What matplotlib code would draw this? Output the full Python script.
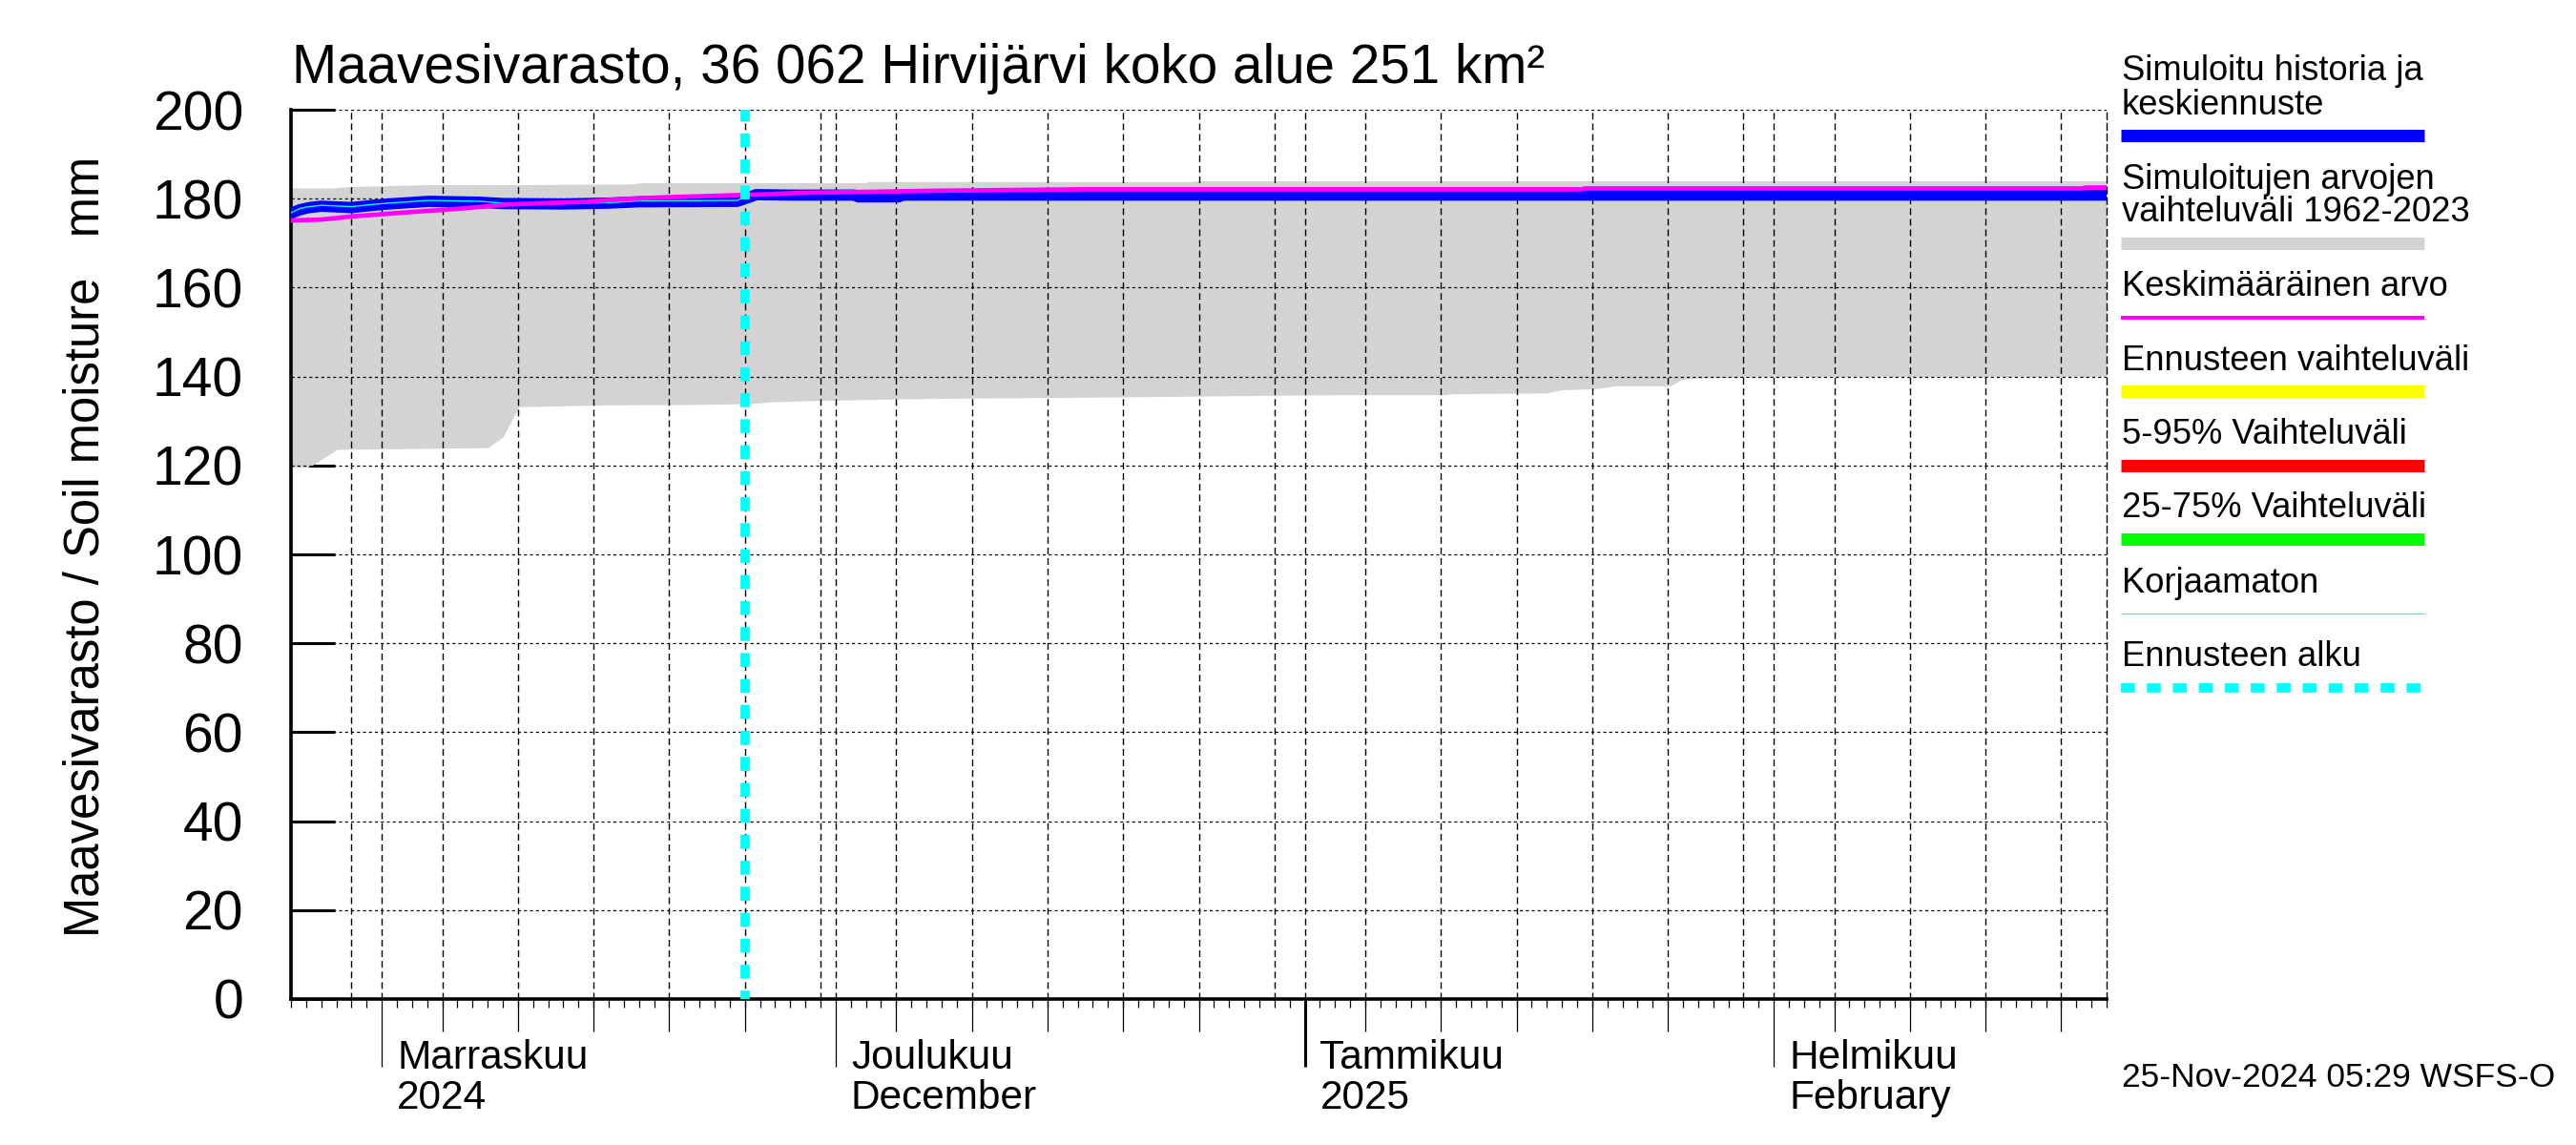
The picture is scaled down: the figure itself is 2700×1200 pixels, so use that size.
import matplotlib
matplotlib.use("Agg")
import matplotlib.pyplot as plt
import matplotlib.dates as mdates
from matplotlib.lines import Line2D
import numpy as np
import pandas as pd

plt.rcParams['font.family'] = ['Liberation Sans', 'DejaVu Sans']

# simulated range 1962-2023 (upper and lower edge)
band_hi_dates = ['2024-10-26 00:00', '2024-10-28 20:00', '2024-10-29 12:00', '2024-10-30 16:00',
                 '2024-11-01 10:00', '2024-11-04 03:00', '2024-11-10 14:00', '2024-11-17 14:00',
                 '2024-11-18 08:00', '2024-12-03 00:00', '2024-12-03 06:00', '2024-12-24 14:00',
                 '2024-12-24 20:00', '2025-02-23 00:00']
band_hi = [182.3, 182.3, 182.5, 182.7, 182.8, 183.05, 183.05, 183.2,
           183.5, 183.5, 183.75, 183.75, 183.9, 183.9]

band_lo_dates = ['2024-10-26 00:00', '2024-10-27 02:00', '2024-10-27 10:00', '2024-10-29 02:00',
                 '2024-11-08 01:00', '2024-11-09 01:00', '2024-11-10 02:00', '2024-11-15 16:00',
                 '2024-11-21 16:00', '2024-11-25 10:00', '2024-11-26 20:00', '2024-11-29 22:00',
                 '2024-12-05 20:00', '2024-12-08 20:00', '2024-12-20 00:00', '2024-12-28 00:00',
                 '2025-01-03 00:00', '2025-01-10 12:00', '2025-01-10 14:00', '2025-01-17 00:00',
                 '2025-01-18 00:00', '2025-01-20 08:00', '2025-01-21 14:00', '2025-01-25 05:00',
                 '2025-01-25 22:00', '2025-01-27 00:00', '2025-01-30 16:00', '2025-02-04 14:00',
                 '2025-02-23 00:00']
band_lo = [119.5, 119.5, 119.9, 123.5, 123.9, 126.3, 133.1, 133.5,
           133.6, 133.8, 134.2, 134.5, 134.9, 135.0, 135.3, 135.6,
           135.8, 135.8, 136.0, 136.2, 136.9, 137.2, 137.8, 137.8,
           139.2, 139.6, 139.8, 139.9, 139.9]

# simulated history and median forecast
sim_dates = ['2024-10-26 00:00', '2024-10-26 14:00', '2024-10-27 05:00', '2024-10-28 00:00',
             '2024-10-30 00:00', '2024-10-31 10:00', '2024-11-01 10:00', '2024-11-04 03:00',
             '2024-11-07 12:00', '2024-11-09 00:00', '2024-11-13 00:00', '2024-11-16 00:00',
             '2024-11-18 00:00', '2024-11-24 12:00', '2024-11-25 18:00', '2024-11-28 00:00',
             '2024-12-02 06:00', '2024-12-02 12:00', '2024-12-05 04:00', '2024-12-05 10:00',
             '2025-02-23 00:00']
sim = [176.7, 177.5, 178.0, 178.3, 178.0, 178.5, 178.8, 179.4,
       179.2, 178.9, 178.8, 179.0, 179.3, 179.4, 180.9, 180.8,
       180.8, 180.4, 180.4, 180.8, 180.8]

# uncorrected
raw_dates = ['2024-10-26 00:00', '2024-10-26 14:00', '2024-10-27 05:00', '2024-10-28 00:00',
             '2024-10-30 00:00', '2024-10-31 10:00', '2024-11-01 10:00', '2024-11-04 03:00',
             '2024-11-07 12:00', '2024-11-09 00:00', '2024-11-13 00:00', '2024-11-16 00:00',
             '2024-11-18 00:00', '2024-11-24 12:00', '2024-11-25 06:00']
raw = [176.8, 177.8, 178.2, 178.5, 178.2, 178.7, 179.0, 179.6,
       179.4, 179.0, 178.9, 179.1, 179.5, 179.6, 180.9]

# long-term mean
mean_dates = ['2024-10-26 00:00', '2024-10-28 00:00', '2024-10-30 00:00', '2024-11-01 00:00',
              '2024-11-03 00:00', '2024-11-06 08:00', '2024-11-09 08:00', '2024-11-14 10:00',
              '2024-11-16 10:00', '2024-11-19 14:00', '2024-11-22 16:00', '2024-11-26 12:00',
              '2024-11-28 16:00', '2024-12-08 00:00', '2024-12-17 10:00', '2025-01-19 08:00',
              '2025-01-19 12:00', '2025-02-21 10:00', '2025-02-21 14:00', '2025-02-23 00:00']
mean = [175.1, 175.3, 176.0, 176.5, 177.0, 177.8, 178.7, 179.3,
        179.8, 180.3, 180.6, 181.0, 181.3, 181.8, 182.1, 182.1,
        182.3, 182.3, 182.5, 182.5]

forecast_start = '2024-11-25'
x_start, x_end = '2024-10-26', '2025-02-23'

month_starts = ['2024-11-01', '2024-12-01', '2025-01-01', '2025-02-01']
month_labels = ['Marraskuu\n2024', 'Joulukuu\nDecember', 'Tammikuu\n2025', 'Helmikuu\nFebruary']

title = 'Maavesivarasto, 36 062 Hirvijärvi koko alue 251 km²'
ylabel = 'Maavesivarasto / Soil moisture   mm'
stamp = '25-Nov-2024 05:29 WSFS-O'

legend_items = [
    (['Simuloitu historia ja', 'keskiennuste'], '#0000ff', 9.4, '-'),
    (['Simuloitujen arvojen', 'vaihteluväli 1962-2023'], '#d3d3d3', 9.4, '-'),
    (['Keskimääräinen arvo'], '#ff00ff', 2.9, '-'),
    (['Ennusteen vaihteluväli'], '#ffff00', 9.4, '-'),
    (['5-95% Vaihteluväli'], '#ff0000', 9.4, '-'),
    (['25-75% Vaihteluväli'], '#00ff00', 9.4, '-'),
    (['Korjaamaton'], '#00ffff', 0.8, '-'),
    (['Ennusteen alku'], '#00ffff', 7.0, (0, (1.5, 1.3))),
]

W, H = 2700, 1200
fig = plt.figure(figsize=(W / 100, H / 100), dpi=100)
ax = fig.add_axes([305 / W, 1 - 1047 / H, (2208 - 305) / W, (1047 - 115) / H])

t = lambda d: mdates.date2num(pd.to_datetime(d))

# gray band as polygon
bx = np.concatenate([t(band_hi_dates), t(band_lo_dates)[::-1]])
by = np.concatenate([band_hi, band_lo[::-1]])
ax.fill(bx, by, color='#d3d3d3', lw=0, zorder=1)

ax.set_xlim(t(x_start), t(x_end))
ax.set_ylim(0, 200)

# grid drawn above the band
yt = np.arange(0, 201, 20)
for v in yt[1:]:
    ax.axhline(v, color='black', lw=0.9, ls=(0, (2.5, 2.5)), zorder=2)
grid_days = [d for d in pd.date_range(x_start, x_end) if d.day in (1, 5, 10, 15, 20, 25, 30)]
for d in grid_days:
    ax.axvline(t(d), color='black', lw=1.0, ls=(0, (5, 3)), zorder=2)

ax.plot(t(mean_dates), mean, color='#ff00ff', lw=3.4, zorder=4, solid_joinstyle='miter')
ax.plot(t(sim_dates), sim, color='#0000ff', lw=8.5, zorder=3)
ax.plot(t(raw_dates), raw, color='#00ffff', lw=1.0, zorder=3.5)
ax.axvline(t(forecast_start), color='#00ffff', lw=7.0, ls=(0.6, (1.5, 1.3)), zorder=6)

# axes frame
ax.spines['top'].set_visible(False)
ax.spines['right'].set_linestyle((0, (5, 3)))
ax.spines['right'].set_linewidth(1.0)
ax.spines['left'].set_linewidth(2.6)
ax.spines['bottom'].set_linewidth(2.6)
ax.set_axisbelow(True)

ax.set_yticks(yt)
ax.tick_params(axis='y', direction='in', length=33, width=2.2, pad=36, labelsize=41)

ax.set_xticks(t(month_starts))
ax.set_xticklabels([])
ax.set_xticks(t(pd.date_range(x_start, x_end)), minor=True)
ax.tick_params(axis='x', which='major', direction='out', length=51, width=0.9)
ax.tick_params(axis='x', which='minor', direction='out', length=6.5, width=0.9)
ax.xaxis.get_major_ticks()[2].tick1line.set_markeredgewidth(2.2)

# 5-day ticks on a twin axis
ax2 = ax.twiny()
ax2.set_xlim(ax.get_xlim())
ax2.xaxis.set_ticks_position('bottom')
ax2.set_xticks(t([d for d in pd.date_range(x_start, x_end) if d.day in (5, 10, 15, 20, 25)]))
ax2.set_xticklabels([])
ax2.tick_params(axis='x', direction='out', length=24.5, width=0.9)
for s in ax2.spines.values():
    s.set_visible(False)

for d, lab in zip(month_starts, month_labels):
    ax.annotate(lab, xy=(t(d), 0), xycoords=('data', 'axes fraction'),
                xytext=(11.5, -30), textcoords='offset points',
                ha='left', va='top', fontsize=30.5, linespacing=1.08)

fig.text(306 / W, 1 - 87 / H, title, fontsize=40.8, va='baseline', ha='left')
fig.text(90 / W, 1 - 573 / H, ylabel, fontsize=36.5, rotation=90, va='center', ha='center')
fig.text(2224 / W, 1 - 1139 / H, stamp, fontsize=25.5, va='baseline', ha='left')

# legend on the right
text_base = [[84, 120], [198, 232], [310], [388], [465], [542], [621], [698]]
line_y = [141.5, 254.6, 332.7, 409.7, 487.5, 565, 643, 721]
for (lines, col, lw, ls), bases, ly in zip(legend_items, text_base, line_y):
    for txt, b in zip(lines, bases):
        fig.text(2224 / W, 1 - b / H, txt, fontsize=26.2, va='baseline', ha='left')
    fig.add_artist(Line2D([2223 / W, 2541 / W], [1 - ly / H, 1 - ly / H],
                          color=col, lw=lw, ls=ls, solid_capstyle='butt', dash_capstyle='butt'))

fig.savefig('out.png', dpi=100)
